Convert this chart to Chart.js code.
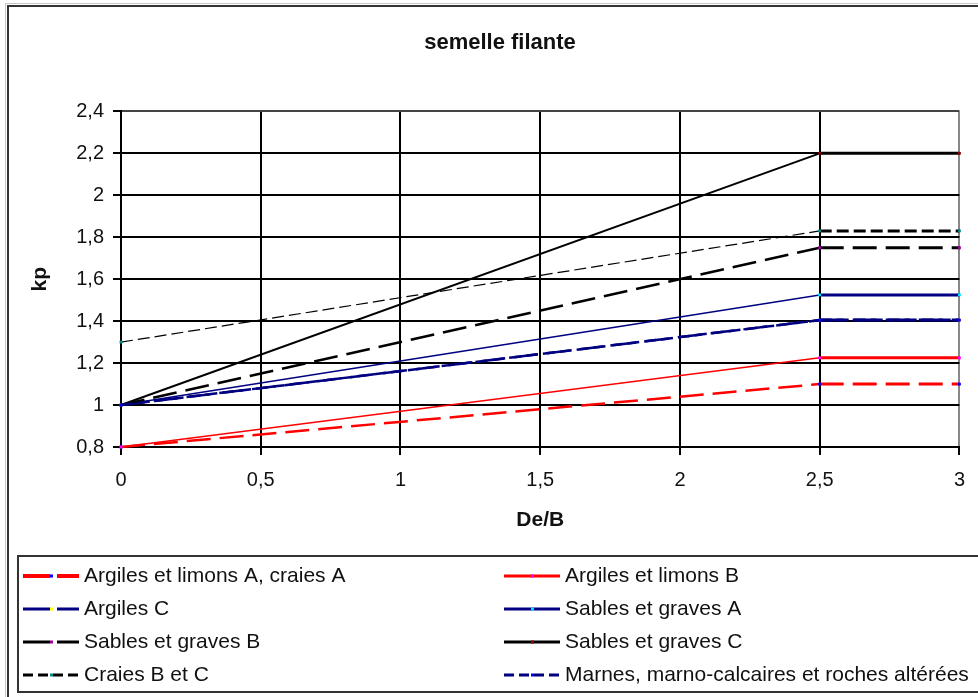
<!DOCTYPE html>
<html>
<head>
<meta charset="utf-8">
<script src="https://cdn.jsdelivr.net/npm/chart.js@4.4.0/dist/chart.umd.min.js"></script>
<style>
  html, body { margin: 0; padding: 0; background: #fff; overflow: hidden; }
  #wrap { position: absolute; left: 0; top: 0; width: 978px; height: 697px; }
</style>
</head>
<body>
<div id="wrap"><canvas id="kpChart" width="978" height="697"></canvas></div>
<script>
// De/B values where kp is given
const xVals = [0, 2.5, 3];
const xTickLabels = ["0", "0,5", "1", "1,5", "2", "2,5", "3"];
const yTickLabels = ["0,8", "1", "1,2", "1,4", "1,6", "1,8", "2", "2,2", "2,4"];

const seriesNames = [
    "Argiles et limons A, craies A",
    "Argiles et limons B",
    "Argiles C",
    "Sables et graves A",
    "Sables et graves B",
    "Sables et graves C",
    "Craies B et C",
    "Marnes, marno-calcaires et roches altérées"
];

// kp values
const argilesA = [0.8, 1.1, 1.1];
const argilesB = [0.8, 1.225, 1.225];
const argilesC = [1, 1.405, 1.405];
const sablesA = [1, 1.525, 1.525];
const sablesB = [1, 1.75, 1.75];
const sablesC = [1, 2.2, 2.2];
const craiesBC = [1.3, 1.83, 1.83];
const marnes = [1, 1.405, 1.405];

const seriesValues = [argilesA, argilesB, argilesC, sablesA, sablesB, sablesC, craiesBC, marnes];

// line look for each series (same order as names)
const lineStyles = [
    { color: "#ff0000", marker: "#0000ff", dash: [24, 9], legendDash: [27, 7], slope: 2.5, legendWidth: 4 },
    { color: "#ff0000", marker: "#ff00ff", dash: [], legendDash: [], slope: 1.5, legendWidth: 3 },
    { color: "#000080", marker: "#ffff00", dash: [24, 9], legendDash: [27, 7], slope: 2.5, legendWidth: 3 },
    { color: "#000080", marker: "#00e5ff", dash: [], legendDash: [], slope: 1.5, legendWidth: 3 },
    { color: "#000000", marker: "#a000a0", dash: [24, 9], legendDash: [27, 7], slope: 2.5, legendWidth: 3 },
    { color: "#000000", marker: "#8b0000", dash: [], legendDash: [], slope: 2, legendWidth: 3 },
    { color: "#000000", marker: "#008b8b", dash: [12, 5], legendDash: [10, 5], slope: 1.2, legendWidth: 3 },
    { color: "#000080", marker: "#0000ff", dash: [12, 5], legendDash: [10, 5], slope: 2.5, legendWidth: 3 }
];

const FONT = "'Liberation Sans', Arial, sans-serif";

let datasets = seriesValues.map((vals, i) => {
    let st = lineStyles[i];
    return {
        label: seriesNames[i],
        data: xVals.map((x, k) => ({ x: x, y: vals[k] })),
        order: seriesValues.length - i, // later series drawn on top
        borderColor: st.color,
        borderWidth: 3,
        borderDash: st.dash,
        segment: {
            borderWidth: ctx => ctx.p0.parsed.x === 0 ? st.slope : 3
        },
        pointStyle: "rect",
        pointRadius: 2,
        pointBorderWidth: 0,
        pointBackgroundColor: st.marker,
        pointBorderColor: st.marker,
        fill: false,
        tension: 0,
        clip: 6,
        legendDash: st.legendDash,
        legendWidth: st.legendWidth
    };
});

// frame + legend box drawn like the spreadsheet chart
const frameLegend = {
    id: "frameLegend",
    beforeDraw(chart) {
        let ctx = chart.ctx;
        ctx.save();
        ctx.fillStyle = "#fff";
        ctx.fillRect(0, 0, chart.width, chart.height);
        ctx.strokeStyle = "#c8c8c8";
        ctx.lineWidth = 1;
        ctx.strokeRect(5.5, 3.5, 1100, 1100);
        ctx.strokeStyle = "#333";
        ctx.lineWidth = 2;
        ctx.strokeRect(8, 6, 1100, 1100);
        ctx.restore();
    },
    afterDraw(chart) {
        let ctx = chart.ctx;
        ctx.save();
        ctx.strokeStyle = "#333";
        ctx.lineWidth = 2;
        ctx.strokeRect(18, 556, 1100, 136);
        chart.data.datasets.forEach((ds, i) => {
            let col = i % 2;
            let row = Math.floor(i / 2);
            let x0 = col === 0 ? 23 : 504;
            let y = 576 + row * 33;
            ctx.beginPath();
            ctx.setLineDash(ds.legendDash);
            ctx.lineWidth = ds.legendWidth;
            ctx.strokeStyle = ds.borderColor;
            ctx.moveTo(x0, y);
            ctx.lineTo(x0 + 56, y);
            ctx.stroke();
            ctx.setLineDash([]);
            ctx.fillStyle = ds.pointBackgroundColor;
            ctx.fillRect(x0 + 27, y - 1.5, 3, 3);
            ctx.fillStyle = "#111";
            ctx.font = "21px " + FONT;
            ctx.textBaseline = "middle";
            ctx.textAlign = "left";
            ctx.fillText(ds.label, x0 + 61, y);
        });
        ctx.restore();
    }
};

const config = {
    type: "line",
    data: { datasets: datasets },
    options: {
        responsive: false,
        animation: false,
        devicePixelRatio: 1,
        layout: { padding: { left: 39, right: 17, top: 0, bottom: 150 } },
        plugins: {
            legend: { display: false },
            tooltip: { enabled: false },
            title: {
                display: true,
                text: "semelle filante",
                color: "#111",
                font: { family: FONT, size: 22, weight: "bold" },
                padding: { top: 30, bottom: 55 }
            }
        },
        scales: {
            x: {
                type: "linear",
                min: 0,
                max: 3,
                afterFit: s => { s.height = 100; },
                ticks: {
                    stepSize: 0.5,
                    color: "#111",
                    padding: 13,
                    maxRotation: 0,
                    font: { family: FONT, size: 20 },
                    callback: (v, i) => xTickLabels[i]
                },
                grid: {
                    color: c => c.tick && c.tick.value === 3 ? "#888" : "#000",
                    tickColor: "#000",
                    lineWidth: 2,
                    tickLength: 8
                },
                border: { color: "#000", width: 2 },
                title: {
                    display: true,
                    text: "De/B",
                    color: "#111",
                    font: { family: FONT, size: 21, weight: "bold" },
                    padding: { top: 0, bottom: 14 }
                }
            },
            y: {
                min: 0.8,
                max: 2.4,
                afterFit: s => { s.width = 82; },
                ticks: {
                    stepSize: 0.2,
                    color: "#111",
                    padding: 9,
                    font: { family: FONT, size: 20 },
                    callback: (v, i) => yTickLabels[i]
                },
                grid: {
                    color: c => c.tick && Math.abs(c.tick.value - 2.4) < 1e-6 ? "#444" : "#000",
                    tickColor: "#000",
                    lineWidth: 2,
                    tickLength: 8
                },
                border: { color: "#000", width: 2 },
                title: {
                    display: true,
                    text: "kp",
                    color: "#111",
                    font: { family: FONT, size: 21, weight: "bold" },
                    padding: { top: -11.6, bottom: 0 }
                }
            }
        }
    },
    plugins: [frameLegend]
};

let kpChart = new Chart("kpChart", config);
</script>
</body>
</html>
